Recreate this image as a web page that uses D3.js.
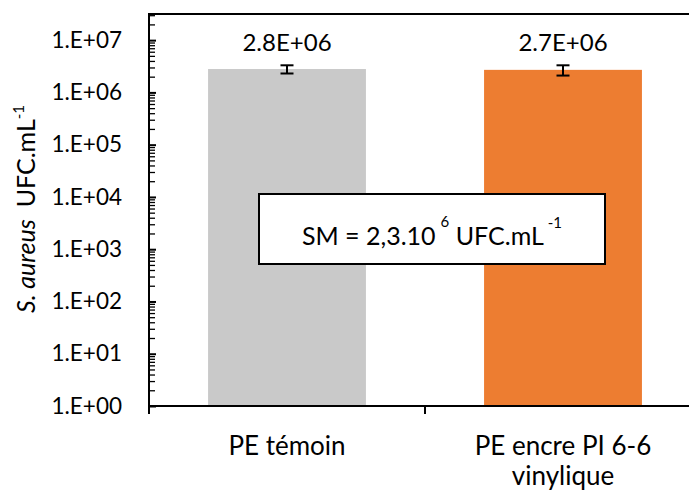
<!DOCTYPE html>
<html>
<head>
<meta charset="utf-8">
<script src="https://cdn.jsdelivr.net/npm/d3@7"></script>
<style>
  html, body { margin: 0; padding: 0; background: #fff; }
  svg { display: block; font-family: Lato, "Liberation Sans", sans-serif; }
</style>
</head>
<body>
<svg id="chart" width="689" height="492"></svg>
<script>
// ---- data ----
const categories = ["PE témoin", "PE encre PI 6-6 vinylique"];
const categoryLines = [["PE témoin"], ["PE encre PI 6-6", "vinylique"]];
const values = [2.8e6, 2.7e6];
const errors = [0.5e6, 0.6e6];
const valueLabels = ["2.8E+06", "2.7E+06"];
const barColors = ["#C9C9C9", "#ED7D31"];
const yTickValues = [1, 10, 100, 1e3, 1e4, 1e5, 1e6, 1e7];
const yTickLabels = ["1.E+00", "1.E+01", "1.E+02", "1.E+03", "1.E+04", "1.E+05", "1.E+06", "1.E+07"];

// ---- layout ----
const svg = d3.select("#chart");
const mLeft = 149, mRight = 701, mTop = 14, mBottom = 406;

const y = d3.scaleLog().domain([1, Math.pow(10, 7.5)]).range([mBottom, mTop]);
const x = d3.scaleBand().domain(categories).range([mLeft, mRight])
  .paddingInner(0.428).paddingOuter(0.214);

// bars
svg.append("g").selectAll("rect").data(values).join("rect")
  .attr("x", (d, i) => x(categories[i]))
  .attr("width", x.bandwidth())
  .attr("y", d => y(d))
  .attr("height", d => y(1) - y(d))
  .attr("fill", (d, i) => barColors[i]);

// error bars
const eb = svg.append("g").attr("stroke", "#000").attr("stroke-width", 2);
values.forEach((v, i) => {
  const cx = x(categories[i]) + x.bandwidth() / 2;
  const y1 = y(v + errors[i]), y2 = y(v - errors[i]);
  eb.append("line").attr("x1", cx).attr("x2", cx).attr("y1", y1).attr("y2", y2);
  eb.append("line").attr("x1", cx - 6.5).attr("x2", cx + 6.5).attr("y1", y1).attr("y2", y1);
  eb.append("line").attr("x1", cx - 6.5).attr("x2", cx + 6.5).attr("y1", y2).attr("y2", y2);
});

// value labels
svg.append("g").selectAll("text").data(valueLabels).join("text")
  .attr("x", (d, i) => x(categories[i]) + x.bandwidth() / 2)
  .attr("y", 51)
  .attr("text-anchor", "middle")
  .attr("font-size", 24)
  .attr("fill", "#000")
  .text(d => d);

// y axis: minor ticks
const minor = [];
for (let e = 0; e <= 7; e++) for (let m = 2; m <= 9; m++) {
  const v = m * Math.pow(10, e);
  if (v <= Math.pow(10, 7.5)) minor.push(v);
}
const gMinor = svg.append("g").attr("transform", `translate(${mLeft},0)`)
  .call(d3.axisLeft(y).tickValues(minor).tickSize(-6).tickFormat(""));
gMinor.select(".domain").remove();
gMinor.selectAll(".tick line").attr("stroke", "#000").attr("stroke-width", 1.3);

// y axis: major ticks
const gY = svg.append("g").attr("transform", `translate(${mLeft},0)`)
  .call(d3.axisLeft(y).tickValues(yTickValues).tickSize(-7).tickPadding(27)
    .tickFormat((d, i) => yTickLabels[i]));
gY.select(".domain").remove();
gY.selectAll(".tick line").attr("stroke", "#000").attr("stroke-width", 2);
gY.selectAll(".tick text").attr("font-size", 22.5).attr("fill", "#000")
  .attr("font-family", "Lato, sans-serif");

// axis lines
svg.append("line").attr("x1", mLeft).attr("x2", mLeft).attr("y1", mTop - 1).attr("y2", mBottom + 8)
  .attr("stroke", "#000").attr("stroke-width", 2);
svg.append("line").attr("x1", mLeft).attr("x2", mRight).attr("y1", mBottom).attr("y2", mBottom)
  .attr("stroke", "#000").attr("stroke-width", 2);
svg.append("line").attr("x1", mLeft).attr("x2", mRight).attr("y1", mTop).attr("y2", mTop)
  .attr("stroke", "#000").attr("stroke-width", 2);

// x ticks at category boundaries
const step = x.step();
const bounds = categories.map(c => x(c) - step * x.paddingInner() / 2);
svg.append("g").selectAll("line").data(bounds).join("line")
  .attr("x1", d => d).attr("x2", d => d).attr("y1", mBottom).attr("y2", mBottom + 8)
  .attr("stroke", "#000").attr("stroke-width", 2);

// category labels
categoryLines.forEach((lines, i) => {
  const cx = x(categories[i]) + x.bandwidth() / 2;
  const t = svg.append("text").attr("text-anchor", "middle").attr("font-size", 26).attr("fill", "#000");
  lines.forEach((ln, j) => {
    t.append("tspan").attr("x", cx).attr("y", 455 + j * 30).text(ln);
  });
});

// y axis title
const yt = svg.append("text")
  .attr("transform", "translate(35,209) rotate(-90)")
  .attr("text-anchor", "middle")
  .attr("font-size", 25)
  .attr("fill", "#000");
yt.append("tspan").attr("font-style", "italic").text("S. aureus");
yt.append("tspan").attr("dx", 12).text("UFC.mL");
yt.append("tspan").attr("font-size", 15).attr("dy", -11).text("-1");

// annotation box
svg.append("rect").attr("x", 259).attr("y", 194).attr("width", 346).attr("height", 70)
  .attr("fill", "#fff").attr("stroke", "#000").attr("stroke-width", 2);
const at = svg.append("text").attr("x", 432).attr("y", 245).attr("text-anchor", "middle")
  .attr("font-size", 25).attr("fill", "#000");
at.append("tspan").text("SM = 2,3.10");
at.append("tspan").attr("font-size", 15).attr("dy", -18).attr("dx", 5).text("6");
at.append("tspan").attr("dy", 18).text(" UFC.mL");
at.append("tspan").attr("font-size", 15).attr("dy", -17).attr("dx", 4).text("-1");
</script>
</body>
</html>
